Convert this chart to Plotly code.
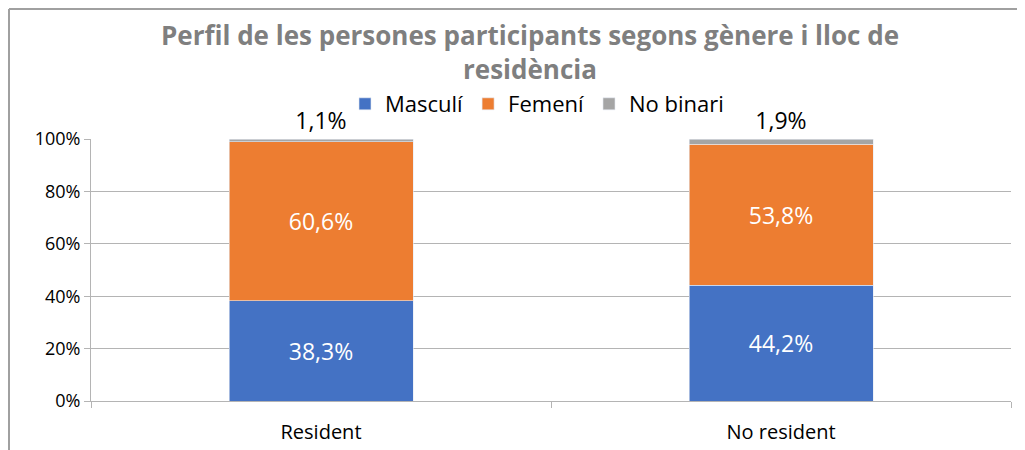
import plotly.graph_objects as go

categories = ["Resident", "No resident"]
masculi = [38.3, 44.2]
femeni = [60.6, 53.8]
no_binari = [1.1, 1.9]
series_names = ["Masculí", "Femení", "No binari"]
colors = ["#4472C4", "#ED7D31", "#A5A5A5"]
tick_vals = [0, 20, 40, 60, 80, 100]
tick_text = ["0%", "20%", "40%", "60%", "80%", "100%"]

FONT = "Open Sans"
# the page body adds an 8px offset; figure is sized to the visible area
OFF = 8
W, H = 1025 - OFF, 450 - OFF
L, R, T, B = 91 - OFF, 14, 139 - OFF, 49
ph = H - T - B
pw = W - L - R

fig = go.Figure()
for name, vals, col in zip(series_names, [masculi, femeni, no_binari], colors):
    is_top = name == "No binari"
    fig.add_trace(go.Bar(
        x=categories, y=vals, name=name,
        marker=dict(color=col, line=dict(color="#e4e9f2", width=0.6)),
        texttemplate="%{y:.1f}%",
        textposition="outside" if is_top else "inside",
        insidetextanchor="middle",
        textfont=dict(color="black" if is_top else "white", size=23, family=FONT),
        cliponaxis=False,
        width=0.4,
    ))

fig.update_layout(
    barmode="stack",
    separators=",.",
    width=W, height=H,
    margin=dict(l=L, r=R, t=T, b=B, autoexpand=False),
    paper_bgcolor="white", plot_bgcolor="white",
    font=dict(family=FONT, color="black"),
    title=dict(
        text="Perfil de les persones participants segons gènere i lloc de<br>residència",
        x=(530 - 91) / pw, xref="paper", xanchor="center",
        y=1 - (45 - OFF) / H, yref="container", yanchor="middle",
        font=dict(size=26, color="#7F7F7F", family=FONT, weight="bold"),
    ),
    legend=dict(
        orientation="h", x=(537 - 91) / pw, xanchor="center",
        y=(401 - 104) / ph, yanchor="middle",
        font=dict(size=22, family=FONT), traceorder="normal",
        bgcolor="rgba(0,0,0,0)",
    ),
)
fig.update_yaxes(
    range=[0, 100], tickmode="array", tickvals=tick_vals, ticktext=tick_text,
    showgrid=True, gridcolor="#b4b4b4", gridwidth=1,
    showline=True, linecolor="#b4b4b4", linewidth=1,
    ticks="outside", ticklen=6, tickcolor="#b4b4b4",
    tickfont=dict(size=18), zeroline=False, automargin=False,
)
fig.update_xaxes(
    showline=True, linecolor="#b4b4b4", linewidth=1,
    ticks="outside", tickson="boundaries", ticklen=6, tickcolor="#b4b4b4",
    tickfont=dict(size=20), automargin=False, ticklabelstandoff=13,
)
# chart-area border (top and left edges)
bx = (1 - L) / pw
by = (H - B - 1) / ph
fig.add_shape(type="line", xref="paper", yref="paper",
              x0=bx, x1=1.05, y0=by, y1=by,
              line=dict(color="#a0a0a0", width=2))
fig.add_shape(type="line", xref="paper", yref="paper",
              x0=bx, x1=bx, y0=by, y1=-0.25,
              line=dict(color="#a0a0a0", width=2))

fig.write_html("out.html")
